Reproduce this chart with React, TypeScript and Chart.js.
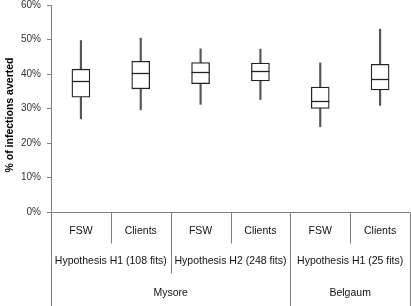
import React, { useEffect, useRef } from "react";
import { Chart, registerables } from "chart.js";

Chart.register(...registerables);

const categories = ["FSW", "Clients", "FSW", "Clients", "FSW", "Clients"];
const hypotheses = ["Hypothesis H1 (108 fits)", "Hypothesis H2 (248 fits)", "Hypothesis H1 (25 fits)"];
const hypothesisSpans = [2, 2, 2];
const sites = ["Mysore", "Belgaum"];
const siteSpans = [4, 2];

const mins = [27.0, 29.6, 31.2, 32.6, 24.7, 30.9];
const q1s = [33.3, 35.7, 37.2, 38.0, 30.0, 35.4];
const medians = [38.0, 40.3, 40.7, 41.0, 32.3, 38.6];
const q3s = [41.4, 43.7, 43.3, 43.2, 36.2, 42.8];
const maxs = [49.7, 50.4, 47.3, 47.2, 43.2, 53.0];

const yTicks = [0, 10, 20, 30, 40, 50, 60];
const yTitle = "% of infections averted";

const FONT = "'Liberation Sans', Arial, sans-serif";

const boxPlugin = {
  id: "boxExtras",
  afterDatasetsDraw(chart: any) {
    const ctx = chart.ctx;
    const xs = chart.scales.x;
    const ys = chart.scales.y;
    ctx.save();
    ctx.strokeStyle = "#222";
    ctx.lineWidth = 1.3;
    medians.forEach((m, i) => {
      const x = xs.getPixelForValue(i);
      const y = Math.round(ys.getPixelForValue(m)) + 0.5;
      ctx.beginPath();
      ctx.moveTo(x - 9, y);
      ctx.lineTo(x + 9, y);
      ctx.stroke();
    });
    ctx.restore();
  },
  afterDraw(chart: any) {
    const ctx = chart.ctx;
    const xs = chart.scales.x;
    const area = chart.chartArea;
    const n = categories.length;
    const w = (area.right - area.left) / n;
    const bx = (i: number) => Math.round(area.left + i * w) + 0.5;
    const base = Math.round(area.bottom) + 0.5;
    const row1 = base + 31;
    const row2 = base + 61;
    const bottom = chart.height;
    ctx.save();
    ctx.strokeStyle = "#808080";
    ctx.lineWidth = 1;
    ctx.beginPath();
    ctx.moveTo(area.left, base);
    ctx.lineTo(area.right, base);
    ctx.stroke();
    const siteBounds = new Set<number>([0, n]);
    let acc = 0;
    siteSpans.forEach((s) => { acc += s; siteBounds.add(acc); });
    const hypBounds = new Set<number>();
    acc = 0;
    hypothesisSpans.forEach((s) => { acc += s; hypBounds.add(acc); });
    for (let i = 0; i <= n; i++) {
      let end = row1;
      if (siteBounds.has(i)) end = bottom;
      else if (hypBounds.has(i)) end = row2;
      ctx.beginPath();
      ctx.moveTo(bx(i), base);
      ctx.lineTo(bx(i), end);
      ctx.stroke();
    }
    ctx.fillStyle = "#111";
    ctx.font = `10.5px ${FONT}`;
    ctx.textAlign = "center";
    ctx.textBaseline = "middle";
    categories.forEach((c, i) => {
      ctx.fillText(c, xs.getPixelForValue(i), base + 19);
    });
    acc = 0;
    hypotheses.forEach((h, k) => {
      const s = hypothesisSpans[k];
      const cx = area.left + (acc + s / 2) * w;
      ctx.fillText(h, cx, base + 49);
      acc += s;
    });
    acc = 0;
    sites.forEach((st, k) => {
      const s = siteSpans[k];
      const cx = area.left + (acc + s / 2) * w;
      ctx.fillText(st, cx, base + 81);
      acc += s;
    });
    ctx.save();
    ctx.translate(10, 115);
    ctx.rotate(-Math.PI / 2);
    ctx.font = `bold 10.5px ${FONT}`;
    ctx.fillStyle = "#000";
    ctx.fillText(yTitle, 0, 0);
    ctx.restore();
    ctx.restore();
  },
};

export default function App() {
  const ref = useRef<HTMLCanvasElement>(null);
  useEffect(() => {
    if (!ref.current) return;
    const chart = new Chart(ref.current, {
      type: "bar",
      data: {
        labels: categories,
        datasets: [
          {
            label: "box",
            data: q1s.map((q, i) => [q, q3s[i]]),
            backgroundColor: "#ffffff",
            borderColor: "#222",
            borderWidth: 1.3,
            borderSkipped: false,
            barThickness: 18,
            grouped: false,
            order: 0,
          } as any,
          {
            label: "whisker",
            data: mins.map((m, i) => [m, maxs[i]]),
            backgroundColor: "#555",
            borderWidth: 0,
            barThickness: 1.5,
            grouped: false,
            order: 1,
          } as any,
        ],
      },
      options: {
        responsive: false,
        animation: false,
        layout: { padding: { top: 5, right: 1, bottom: 94, left: 0 } },
        plugins: { legend: { display: false }, tooltip: { enabled: false } },
        scales: {
          x: { display: false },
          y: {
            min: 0,
            max: 60,
            afterFit: (scale: any) => {
              scale.width = 51;
              scale.paddingTop = 0;
              scale.paddingBottom = 0;
            },
            afterBuildTicks: (scale: any) => { scale.ticks = yTicks.map((v) => ({ value: v })); },
            border: { display: true, color: "#808080", width: 1 },
            grid: { display: true, drawOnChartArea: false, drawTicks: true, tickLength: 4, color: "#808080" },
            ticks: {
              padding: 6,
              color: "#333",
              font: { family: FONT, size: 10 },
              callback: (v: any) => `${v}%`,
            },
          },
        },
      },
      plugins: [boxPlugin],
    });
    return () => chart.destroy();
  }, []);
  return (
    <div style={{ position: "fixed", left: 0, top: 0, width: 411, height: 306, background: "#fff" }}>
      <canvas ref={ref} width={411} height={306} style={{ display: "block" }} />
    </div>
  );
}
